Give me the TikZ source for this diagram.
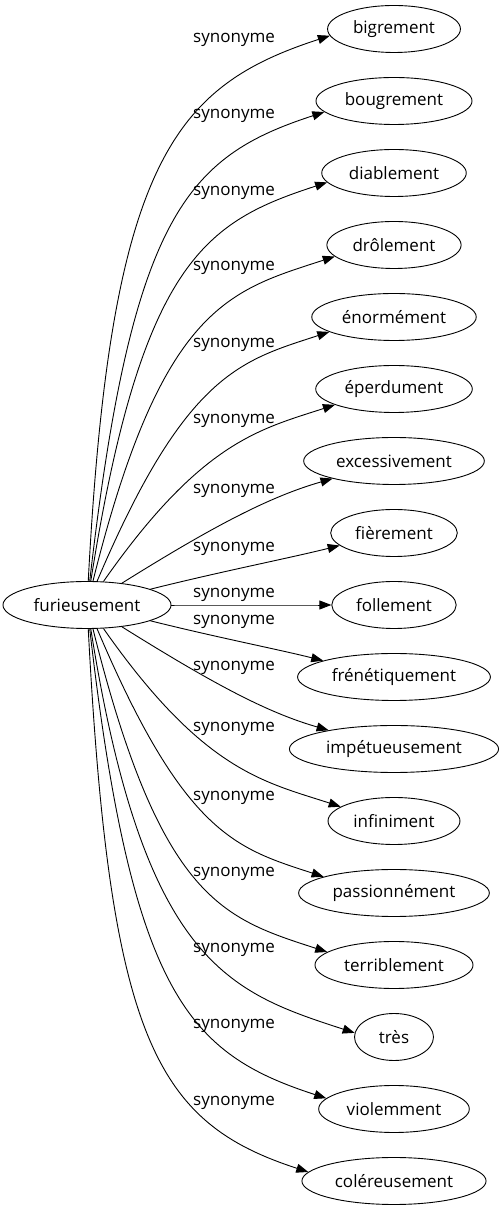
\documentclass[tikz,border=0pt]{standalone}
\usepackage{fontspec}
\setmainfont{Open Sans}
\usepackage{tikz}
\usetikzlibrary{arrows.meta}
\usetikzlibrary{shapes.geometric}

\begin{document}
\begin{tikzpicture}[x=1pt,y=1pt]
\tikzset{every word/.style={draw=black, ellipse, line width=0.9pt, inner xsep=6pt, inner ysep=3pt,
  minimum height=47pt, minimum width=79pt, font=\fontsize{17}{20}\selectfont}}
\tikzset{every link/.style={-{Triangle[length=12pt,width=9pt]}, line width=0.9pt}}
\tikzset{rel text/.style={anchor=west, inner sep=0pt, font=\fontsize{17}{20}\selectfont}}

   \useasboundingbox (0,0) rectangle (499,1211);

   \node[every word] (furieusement) at (87,606) {furieusement};

   % the synonyms, top to bottom
   \foreach \word/\name [count=\k from 0] in {%
     bigrement/bigrement, bougrement/bougrement, diablement/diablement,%
     drôlement/drolement, énormément/enormement, éperdument/eperdument,%
     excessivement/excessivement, fièrement/fierement, follement/follement,%
     frénétiquement/frenetiquement, impétueusement/impetueusement,%
     infiniment/infiniment, passionnément/passionnement,%
     terriblement/terriblement, très/tres, violemment/violemment,%
     coléreusement/colereusement}
     \node[every word] (\name) at (394,1182-72*\k) {\word};

   % links: target / out / in / end anchor / looseness / label height
   \foreach \name/\a/\b/\e/\l/\ly in {%
     bigrement/87/198/186/1.8/1171,%
     bougrement/83.5/198/189/1.8/1095,%
     diablement/81/198/188/1.8/1018,%
     drolement/76/198/191/1.8/943,%
     enormement/67/198/193/1.7/866,%
     eperdument/55/198/195/1.5/790,%
     excessivement/32/196/196/1.2/720,%
     fierement/14/194/193/1/662,%
     follement/0/180/180/1/616,%
     frenetiquement/-14/166/167/1/589,%
     impetueusement/-32/164/164/1.2/543,%
     infiniment/-55/162/165/1.5/482,%
     passionnement/-67/162/167/1.7/413,%
     terriblement/-76/162/169/1.8/337,%
     tres/-81/162/174/1.8/261,%
     violemment/-83.5/162/171/1.8/185,%
     colereusement/-87/162/174/1.8/108}
   {
     \draw[every link] (furieusement) to[out=\a, in=\b, out looseness=\l, in looseness=0.7] (\name.\e);
     \node[rel text] (syn\name) at (193,\ly) {synonyme};
   }
\end{tikzpicture}
\end{document}
